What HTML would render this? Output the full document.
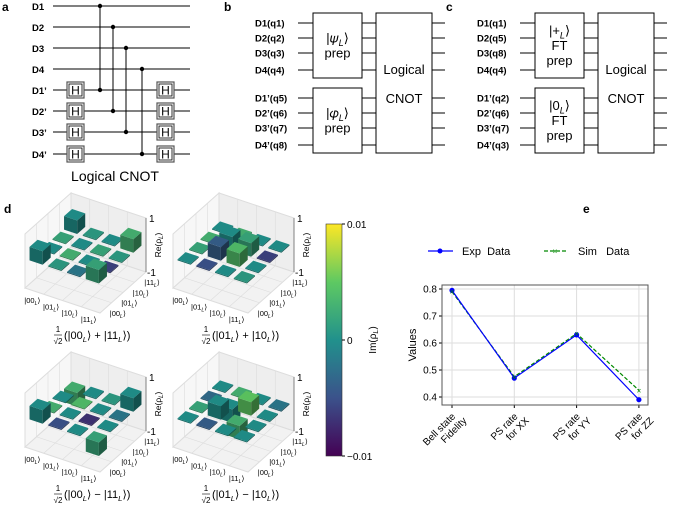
<!DOCTYPE html>
<html><head><meta charset="utf-8"><style>
body{margin:0;background:#fff;}
svg{display:block;font-family:"Liberation Sans","DejaVu Sans",sans-serif;}
.pl{font-weight:bold;font-size:12px;}
.ql{font-weight:bold;font-size:9.5px;}
.bx{font-size:13px;}
.tk{font-size:10px;}
</style></head><body>
<svg id="fig" width="685" height="505" viewBox="0 0 685 505">
<g stroke="#000" fill="none">
  <g stroke-width="1">
    <line x1="53" y1="6" x2="190" y2="6"/><line x1="53" y1="27" x2="190" y2="27"/>
    <line x1="53" y1="48" x2="190" y2="48"/><line x1="53" y1="69" x2="190" y2="69"/>
    <line x1="53" y1="90" x2="190" y2="90"/><line x1="53" y1="111" x2="190" y2="111"/>
    <line x1="53" y1="132" x2="190" y2="132"/><line x1="53" y1="154" x2="190" y2="154"/>
    <line x1="100" y1="6" x2="100" y2="90"/><line x1="113" y1="27" x2="113" y2="111"/>
    <line x1="126" y1="48" x2="126" y2="132"/><line x1="142" y1="69" x2="142" y2="154"/>
  </g>
  <g fill="#000" stroke="none">
    <circle cx="100" cy="6" r="2.2"/><circle cx="100" cy="90" r="2.2"/>
    <circle cx="113" cy="27" r="2.2"/><circle cx="113" cy="111" r="2.2"/>
    <circle cx="126" cy="48" r="2.2"/><circle cx="126" cy="132" r="2.2"/>
    <circle cx="142" cy="69" r="2.2"/><circle cx="142" cy="154" r="2.2"/>
  </g>
</g>
<g id="hgates"></g>
<g>
<text class="pl" x="2" y="11">a</text>
<text class="ql" x="32" y="10">D1</text><text class="ql" x="32" y="31">D2</text>
<text class="ql" x="32" y="52">D3</text><text class="ql" x="32" y="73">D4</text>
<text class="ql" x="32" y="94">D1’</text><text class="ql" x="32" y="115">D2’</text>
<text class="ql" x="32" y="136">D3’</text><text class="ql" x="32" y="158">D4’</text>
<text x="115" y="181" font-size="14" text-anchor="middle">Logical CNOT</text>
</g>
<g id="pb"></g>
<g id="pc"></g>

<text class="pl" x="4" y="213">d</text>
<g id="pd"></g>
<defs><linearGradient id="vir" x1="0" y1="1" x2="0" y2="0">
<stop offset="0" stop-color="#440154"/><stop offset="0.25" stop-color="#3b528b"/>
<stop offset="0.5" stop-color="#21918c"/><stop offset="0.75" stop-color="#5ec962"/>
<stop offset="1" stop-color="#fde725"/></linearGradient></defs>
<g>
<rect x="326" y="224" width="16" height="232" fill="url(#vir)" stroke="#333" stroke-width="0.6"/>
<line x1="342" y1="224" x2="345" y2="224" stroke="#000"/><line x1="342" y1="340" x2="345" y2="340" stroke="#000"/><line x1="342" y1="456" x2="345" y2="456" stroke="#000"/>
<text class="tk" x="347" y="228">0.01</text><text class="tk" x="347" y="344">0</text><text class="tk" x="347" y="460">−0.01</text>
<text class="tk" transform="translate(376,340) rotate(-90)" text-anchor="middle">Im(ρ<tspan font-size="7" dy="2" font-style="italic">L</tspan><tspan dy="-2">)</tspan></text>
</g>

<text class="pl" x="583" y="213">e</text>
<g>
<g><line x1="428" y1="251" x2="453" y2="251" stroke="#00f" stroke-width="1.2"/><circle cx="440" cy="251" r="2.5" fill="#00f"/><text x="462" y="255" font-size="11">Exp&#160;&#160;Data</text></g>
<g><line x1="544" y1="251" x2="567" y2="251" stroke="#080" stroke-width="1.2" stroke-dasharray="4,2"/><text x="555" y="254" font-size="8" fill="#080" text-anchor="middle">×</text><text x="578" y="255" font-size="11">Sim&#160;&#160;&#160;Data</text></g>
</g>
<g id="pe"></g>
</svg>
<script>
const NS="http://www.w3.org/2000/svg";
function mk(p,tag,at,txt){const e=document.createElementNS(NS,tag);for(const k in at)e.setAttribute(k,at[k]);if(txt!==undefined)e.textContent=txt;p.appendChild(e);return e;}
// text with subscript L: parts is array of strings; "_L" token renders italic subscript
function rich(p,at,parts,fs){const t=mk(p,'text',at);
  parts.forEach(s=>{ if(s==='_L'){mk(t,'tspan',{'font-size':fs*0.7,'font-style':'italic',dy:fs*0.25},'L');mk(t,'tspan',{dy:-fs*0.25},'\u200b');}
    else mk(t,'tspan',{},s);});return t;}

const hg=document.getElementById('hgates');
[90,111,132,154].forEach(y=>{[67,157].forEach(x=>{
  const g=mk(hg,'g',{});
  
  
  mk(g,'rect',{x:x,y:y-8,width:17,height:16,fill:'#fff',stroke:'#555','stroke-width':1.2});
  mk(g,'rect',{x:x+2,y:y-6,width:13,height:12,fill:'#fff',stroke:'#000','stroke-width':0.8});
  mk(g,'text',{x:x+8.5,y:y+4.5,'font-size':12,'text-anchor':'middle'},'H');
});});

function circuit(g,ox,letter,labels,t1,t2){
  mk(g,'text',{class:'pl',x:ox+4,y:11},letter);
  const ys=[23,38,53,70,98,113,128,145];
  ys.forEach((y,i)=>{
    const t=mk(g,'text',{class:'ql',x:ox+35,y:y+3.5},labels[i]);
    
    
    mk(g,'line',{x1:ox+78,y1:y,x2:ox+93,y2:y,stroke:'#000'});
    mk(g,'line',{x1:ox+142,y1:y,x2:ox+156,y2:y,stroke:'#000'});
    mk(g,'line',{x1:ox+212,y1:y,x2:ox+225,y2:y,stroke:'#000'});
  });
  mk(g,'rect',{x:ox+93,y:13,width:49,height:65,fill:'#fff',stroke:'#000'});
  mk(g,'rect',{x:ox+93,y:88,width:49,height:65,fill:'#fff',stroke:'#000'});
  mk(g,'rect',{x:ox+156,y:13,width:56,height:140,fill:'#fff',stroke:'#000'});
  [t1,t2].forEach((arr,k)=>{const base=k?88:13;const n=arr.length;
    arr.forEach((s,j)=>{const y=base+33+(j-(n-1)/2)*15+4;
      if(Array.isArray(s)) rich(g,{class:'bx',x:ox+117.5,y:y,'text-anchor':'middle'},s,13);
      else mk(g,'text',{class:'bx',x:ox+117.5,y:y,'text-anchor':'middle'},s);});});
  mk(g,'text',{class:'bx',x:ox+184,y:74,'text-anchor':'middle'},'Logical');
  mk(g,'text',{class:'bx',x:ox+184,y:103,'text-anchor':'middle'},'CNOT');
}
circuit(document.getElementById('pb'),220,'b',['D1(q1)','D2(q2)','D3(q3)','D4(q4)','D1’(q5)','D2’(q6)','D3’(q7)','D4’(q8)'],[['|𝜓','_L','⟩'],'prep'],[['|𝜑','_L','⟩'],'prep']);
circuit(document.getElementById('pc'),442,'c',['D1(q1)','D2(q5)','D3(q8)','D4(q4)','D1’(q2)','D2’(q6)','D3’(q7)','D4’(q3)'],[['|+','_L','⟩'],'FT','prep'],[['|0','_L','⟩'],'FT','prep']);

// Panel d
const basisLabels=['00','01','10','11'];
const rhoBellA=[[0.5,0,0,0.5],[0,0,0,0],[0,0,0,0],[0.5,0,0,0.5]];
const rhoBellB=[[0,0,0,0],[0,0.5,0.5,0],[0,0.5,0.5,0],[0,0,0,0]];
const rhoBellC=[[0.5,0,0,-0.5],[0,0,0,0],[0,0,0,0],[-0.5,0,0,0.5]];
const rhoBellD=[[0,0,0,0],[0,0.5,-0.5,0],[0,-0.5,0.5,0],[0,0,0,0]];
const imA=[[0,0.001,-0.002,0.002],[0,0.003,0,-0.006],[0.002,0,0.002,0.001],[0,0.001,0,0.003]];
const imB=[[0,-0.005,0,0.001],[0.002,-0.004,0.004,0],[0.003,0,0.002,-0.006],[0,0.003,0,0]];
const imC=[[0,-0.005,0,0.002],[0.003,0,-0.007,0],[0,0.004,0,-0.002],[0.003,0,0.001,0]];
const imD=[[0,-0.004,0,0],[0.002,0,0.003,0],[-0.003,0,0.005,0],[0,0.003,0,-0.002]];
const captions=[['(|00','_L','⟩ + |11','_L','⟩)'],['(|01','_L','⟩ + |10','_L','⟩)'],['(|00','_L','⟩ − |11','_L','⟩)'],['(|01','_L','⟩ − |10','_L','⟩)']];
const vstops=[[68,1,84],[59,82,139],[33,145,140],[94,201,98],[253,231,37]];
function vir(t){t=Math.max(0,Math.min(1,t))*4;const i=Math.min(3,Math.floor(t)),f=t-i;const a=vstops[i],b=vstops[i+1];
  return [0,1,2].map(k=>Math.round(a[k]+(b[k]-a[k])*f));}
function rgb(c,s){return 'rgb('+c.map(v=>Math.round(v*s)).join(',')+')';}
const pd=document.getElementById('pd');
function plot3d(ox,oy,rho,im,cap){
  const g=mk(pd,'g',{});
  
  
  const P=(u,v,w)=>[ox+u*18.75+v*11.5, oy+u*6.25-v*10.25-(w+1)*27];
  const pts=a=>a.map(p=>P(...p).join(',')).join(' ');
  const WT=1.0;
  mk(g,'polygon',{points:pts([[0,0,-1],[0,4,-1],[4,4,-1],[4,0,-1]]),fill:'#f2f2f2',stroke:'#ddd'});
  mk(g,'polygon',{points:pts([[0,0,-1],[0,4,-1],[0,4,WT],[0,0,WT]]),fill:'#f7f7f7',stroke:'#ddd'});
  mk(g,'polygon',{points:pts([[0,4,-1],[4,4,-1],[4,4,WT],[0,4,WT]]),fill:'#eeeeee',stroke:'#ddd'});
  for(let i=1;i<4;i++){
    mk(g,'polyline',{points:pts([[i,0,-1],[i,4,-1],[i,4,WT]]),fill:'none',stroke:'#ddd','stroke-width':0.6});
    mk(g,'polyline',{points:pts([[4,i,-1],[0,i,-1],[0,i,WT]]),fill:'none',stroke:'#ddd','stroke-width':0.6});
  }
  const order=[];for(let u=0;u<4;u++)for(let v=0;v<4;v++)order.push([u,v]);
  order.sort((a,b)=>(b[1]-b[0])-(a[1]-a[0]));
  order.forEach(([u,v])=>{
    const h=rho[v][u];const c=vir((im[v][u]+0.01)/0.02);
    const u0=u+0.15,u1=u+0.85,v0=v+0.15,v1=v+0.85;const w0=0,w1=h===0?0.04:h;
    const lo=Math.min(w0,w1),hi=Math.max(w0,w1);
    const b=mk(g,'g',{});
    
    
    mk(b,'polygon',{points:pts([[u0,v0,lo],[u1,v0,lo],[u1,v0,hi],[u0,v0,hi]]),fill:rgb(c,0.7)});
    mk(b,'polygon',{points:pts([[u1,v0,lo],[u1,v1,lo],[u1,v1,hi],[u1,v0,hi]]),fill:rgb(c,0.55)});
    mk(b,'polygon',{points:pts([[u0,v0,hi],[u1,v0,hi],[u1,v1,hi],[u0,v1,hi]]),fill:rgb(c,0.95)});
  });
  const za=P(4,4,-1),zb=P(4,4,1);
  mk(g,'line',{x1:za[0],y1:za[1],x2:zb[0],y2:zb[1],stroke:'#444','stroke-width':0.6});
  mk(g,'text',{class:'tk',x:zb[0]+3,y:zb[1]+4},'1');
  mk(g,'text',{class:'tk',x:za[0]+1,y:za[1]+4},'-1');
  const zm=P(4,4,0);
  rich(g,{'font-size':8.5,transform:`translate(${zm[0]+15},${zm[1]}) rotate(-90)`,'text-anchor':'middle'},['Re(ρ','_L',')'],8.5);
  basisLabels.forEach((s,i)=>{
    const p=P(i+0.5,0,-1);rich(g,{'font-size':7.5,x:p[0]-2,y:p[1]+12,'text-anchor':'middle'},['|'+s,'_L','⟩'],7.5);
    const q=P(4,i+0.5,-1);rich(g,{'font-size':7.5,x:q[0]+4,y:q[1]+8},['|'+s,'_L','⟩'],7.5);
  });
  const cx=ox+60,cy=oy+50;
  mk(g,'text',{'font-size':8,x:cx-27,y:cy-6,'text-anchor':'middle'},'1');
  mk(g,'line',{x1:cx-31,y1:cy-3,x2:cx-23,y2:cy-3,stroke:'#000','stroke-width':0.6});
  mk(g,'text',{'font-size':8,x:cx-27,y:cy+6,'text-anchor':'middle'},'√2');
  rich(g,{'font-size':11,x:cx-21,y:cy+1},cap,11);
}
plot3d(25,288,rhoBellA,imA,captions[0]);
plot3d(173,288,rhoBellB,imB,captions[1]);
plot3d(25,447,rhoBellC,imC,captions[2]);
plot3d(173,447,rhoBellD,imD,captions[3]);

// Panel e
const cats=[['Bell state','Fidelity'],['PS rate','for XX'],['PS rate','for YY'],['PS rate','for ZZ']];
const expVals=[0.795,0.47,0.63,0.39];
const simVals=[0.79,0.475,0.635,0.425];
const yTicks=[0.4,0.5,0.6,0.7,0.8];
const pe=document.getElementById('pe');
const L=442,R=648,T=285,B=405;
const xs=i=>452+i*62.3;
const ys=v=>397-(v-0.4)*270;
yTicks.forEach(t=>{
  mk(pe,'line',{x1:L,y1:ys(t),x2:R,y2:ys(t),stroke:'#ddd','stroke-width':1});
  mk(pe,'line',{x1:L-3,y1:ys(t),x2:L,y2:ys(t),stroke:'#000'});
  const tx=mk(pe,'text',{class:'tk',x:L-5,y:ys(t)+3.5,'text-anchor':'end'},t.toFixed(1));
  
  
});
cats.forEach((c,i)=>{
  const x=xs(i);
  mk(pe,'line',{x1:x,y1:T,x2:x,y2:B,stroke:'#ddd','stroke-width':1});
  mk(pe,'line',{x1:x,y1:B,x2:x,y2:B+3,stroke:'#000'});
  const t=mk(pe,'text',{class:'tk',transform:`translate(${x+4},${B+12}) rotate(-45)`,'text-anchor':'end'});
  
  
  mk(t,'tspan',{x:0,dy:0},c[0]);mk(t,'tspan',{x:5,dy:11},c[1]);
});
mk(pe,'rect',{x:L,y:T,width:R-L,height:B-T,fill:'none',stroke:'#555','stroke-width':1});
mk(pe,'text',{'font-size':11,transform:`translate(416,345) rotate(-90)`,'text-anchor':'middle'},'Values');
const lp=v=>v.map((d,i)=>xs(i)+','+ys(d)).join(' ');
const sl=mk(pe,'polyline',{points:lp(simVals),fill:'none',stroke:'#080','stroke-width':1.2,'stroke-dasharray':'4,2'});


const el=mk(pe,'polyline',{points:lp(expVals),fill:'none',stroke:'#00f','stroke-width':1.2});


expVals.forEach((d,i)=>{const c=mk(pe,'circle',{cx:xs(i),cy:ys(d),r:2.6,fill:'#00f'});
  
  });
simVals.forEach((d,i)=>{const t=mk(pe,'text',{x:xs(i),y:ys(d)+3,'font-size':8,fill:'#080','text-anchor':'middle'},'×');
  
  });
</script>
</body></html>
